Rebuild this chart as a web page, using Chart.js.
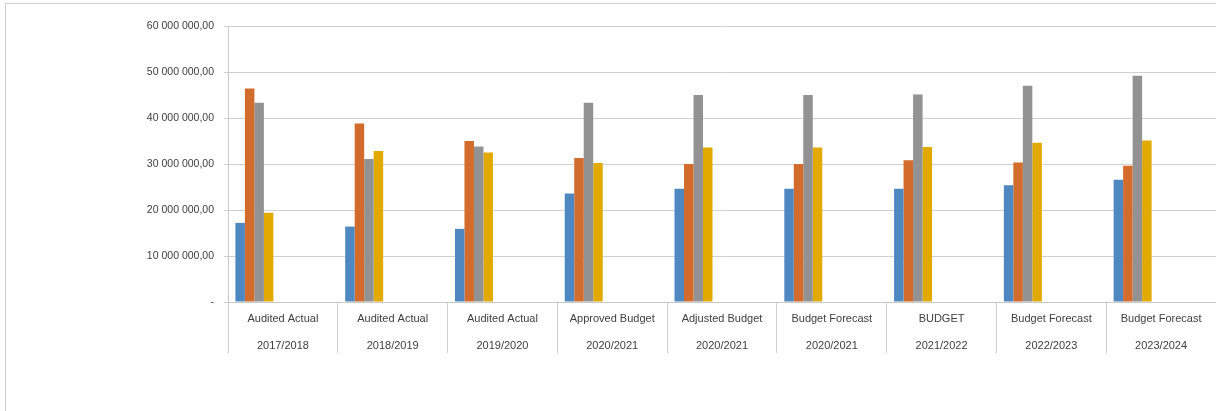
<!DOCTYPE html>
<html lang="en">

<head>
    <meta charset="UTF-8">
    <title>Audited Actual vs Budget</title>
    <script src="https://cdn.jsdelivr.net/npm/chart.js"></script>
    <style>
        body {
            margin: 0;
            background-color: #ffffff;
        }

        .frame {
            position: relative;
            width: 1216px;
            height: 411px;
            overflow: hidden;
        }

        .frame .border {
            position: absolute;
            left: 5px;
            top: 3px;
            right: -2px;
            bottom: -2px;
            border-left: 1px solid #d0d0d0;
            border-top: 1px solid #d0d0d0;
        }

        .frame canvas {
            position: absolute;
            left: 0;
            top: 0;
        }
    </style>
</head>

<body>
    <div class="frame">
        <div class="border"></div>
        <canvas id="budgetChart" width="1216" height="411"></canvas>
    </div>

    <script>
        // Categories (two-level axis: label / year)
        const categoryNames = ['Audited Actual', 'Audited Actual', 'Audited Actual', 'Approved Budget',
            'Adjusted Budget', 'Budget Forecast', 'BUDGET', 'Budget Forecast', 'Budget Forecast'];
        const categoryYears = ['2017/2018', '2018/2019', '2019/2020', '2020/2021',
            '2020/2021', '2020/2021', '2021/2022', '2022/2023', '2023/2024'];

        // Series values
        const seriesBlue = [17200000, 16400000, 15900000, 23600000, 24600000, 24600000, 24600000, 25400000, 26600000];
        const seriesOrange = [46400000, 38800000, 35000000, 31300000, 30000000, 30000000, 30800000, 30300000, 29600000];
        const seriesGray = [43300000, 31100000, 33800000, 43300000, 45000000, 45000000, 45100000, 47000000, 49200000];
        const seriesYellow = [19400000, 32800000, 32500000, 30200000, 33600000, 33600000, 33700000, 34600000, 35100000];

        // The source workbook has more (empty) series that still take their slot in each group
        const emptySeriesCount = 6;

        // Y axis ticks
        const yTicks = [0, 10000000, 20000000, 30000000, 40000000, 50000000, 60000000];

        const seriesColors = ['#4f88c0', '#d36b2c', '#929292', '#e2aa00'];

        function formatAmount(value) {
            if (value === 0) return '-';
            const whole = Math.round(value).toString().replace(/\B(?=(\d{3})+(?!\d))/g, ' ');
            return whole + ',00';
        }

        const datasets = [seriesBlue, seriesOrange, seriesGray, seriesYellow].map(function (values, i) {
            return {
                label: 'Series ' + (i + 1),
                data: values,
                backgroundColor: seriesColors[i],
                borderWidth: 0
            };
        });
        for (let i = 0; i < emptySeriesCount; i++) {
            datasets.push({ label: '', data: [], backgroundColor: 'rgba(0,0,0,0)' });
        }

        const ctx = document.getElementById('budgetChart').getContext('2d');
        new Chart(ctx, {
            type: 'bar',
            data: {
                labels: categoryNames.map(function (name, i) { return [name, categoryYears[i]]; }),
                datasets: datasets
            },
            options: {
                responsive: false,
                animation: false,
                layout: {
                    padding: { top: 26, left: 0, right: 0, bottom: 0 }
                },
                datasets: {
                    bar: {
                        categoryPercentage: 0.865,
                        barPercentage: 1
                    }
                },
                plugins: {
                    legend: { display: false },
                    tooltip: { enabled: false }
                },
                scales: {
                    x: {
                        grid: {
                            offset: true,
                            drawOnChartArea: false,
                            tickLength: 51,
                            color: '#d0d0d0'
                        },
                        border: { color: '#c8c8c8' },
                        ticks: {
                            padding: -47,
                            maxRotation: 0,
                            autoSkip: false,
                            color: '#404040',
                            font: { family: "'Liberation Sans', Arial, sans-serif", size: 11, lineHeight: 2.4 }
                        },
                        afterFit: function (scale) { scale.height = 109; }
                    },
                    y: {
                        min: yTicks[0],
                        max: yTicks[yTicks.length - 1],
                        afterBuildTicks: function (scale) {
                            scale.ticks = yTicks.map(function (v) { return { value: v }; });
                        },
                        grid: {
                            color: '#d0d0d0',
                            tickLength: 4
                        },
                        border: { color: '#c8c8c8' },
                        ticks: {
                            padding: 10,
                            color: '#404040',
                            font: { family: "'Liberation Sans', Arial, sans-serif", size: 10.5 },
                            callback: function (value) { return formatAmount(value); }
                        },
                        afterFit: function (scale) { scale.width = 228; }
                    }
                }
            }
        });
    </script>
</body>

</html>
